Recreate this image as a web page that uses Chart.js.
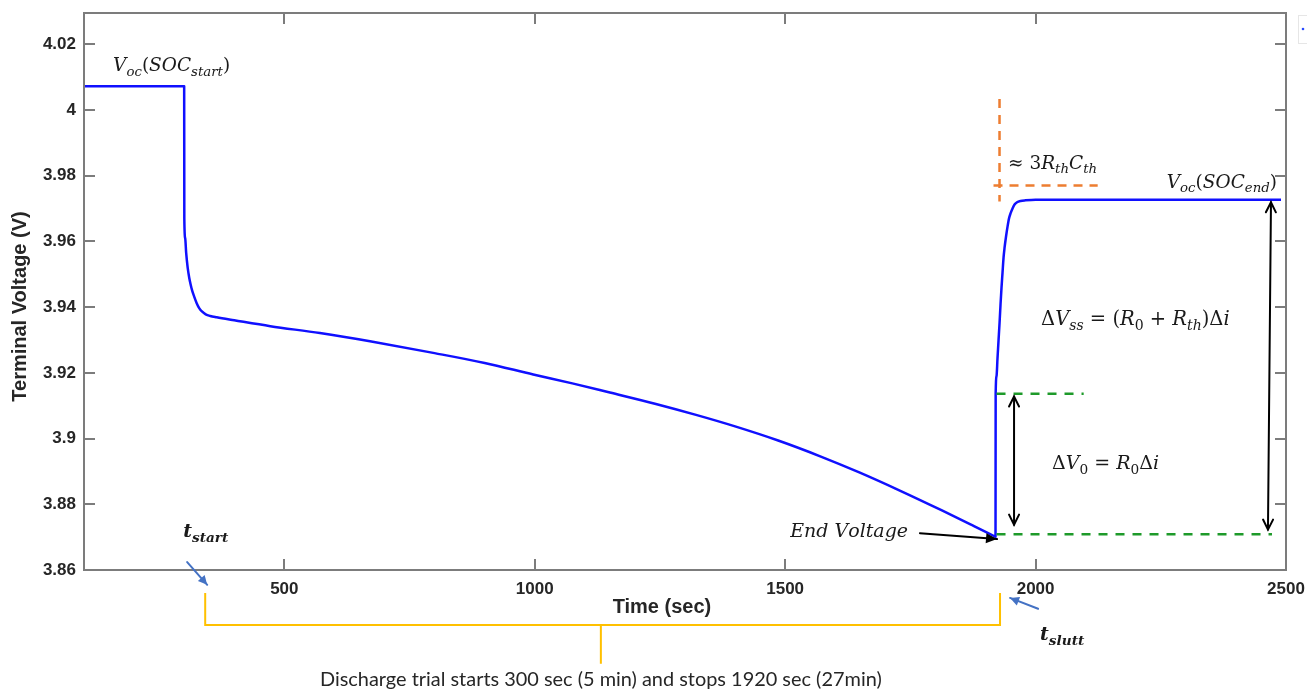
<!DOCTYPE html>
<html>
<head>
<meta charset="utf-8">
<script src="https://cdn.jsdelivr.net/npm/chart.js@4.4.1/dist/chart.umd.min.js"></script>
<style>
  html, body { margin: 0; padding: 0; background: #ffffff; }
  #wrap { width: 1307px; height: 695px; position: relative; }
</style>
</head>
<body>
<div id="wrap"><canvas id="c"></canvas></div>
<script>
// Terminal voltage during a constant-current discharge and the rest that follows
const timeSec = [100, 300, 300.3, 302, 304, 307, 310, 313, 316, 320, 325, 330, 336, 343, 352, 365, 400, 472, 571, 671, 800, 900, 997,
                 1075, 1150, 1240, 1322, 1400, 1486, 1570, 1648, 1730, 1812, 1870, 1915, 1920,
                 1920.3, 1922, 1924, 1926, 1928, 1930, 1932, 1934, 1936, 1938, 1941, 1944, 1947, 1950, 1954, 1958, 1963, 1970, 1980, 2000, 2490];
const voltage = [4.0072, 4.0072, 3.9670, 3.9610, 3.9565, 3.9520, 3.9490, 3.9468, 3.9450, 3.9432, 3.9412, 3.9397, 3.9386, 3.9378, 3.9373, 3.9369, 3.9360, 3.9342, 3.9321, 3.9296, 3.9260, 3.9230, 3.9195,
                 3.9168, 3.9140, 3.9106, 3.9072, 3.9037, 3.8994, 3.8946, 3.8897, 3.8841, 3.8782, 3.8739, 3.8705, 3.8701,
                 3.9136, 3.9190, 3.9245, 3.9298, 3.9350, 3.9408, 3.9460, 3.9505, 3.9550, 3.9580, 3.9615, 3.9645, 3.9670, 3.9685, 3.9700, 3.9712, 3.9719, 3.9723, 3.9725, 3.9727, 3.9727];

// Axis ticks
const xTicks = [500, 1000, 1500, 2000, 2500];
const yTicks = [3.86, 3.88, 3.9, 3.92, 3.94, 3.96, 3.98, 4, 4.02];
const yTickLabels = ['3.86', '3.88', '3.9', '3.92', '3.94', '3.96', '3.98', '4', '4.02'];
const xRange = [100, 2500];
const yRange = [3.86, 4.0295];

// Guide lines (time s, voltage V)
const tauVertT = [1928, 1928];   const tauVertV = [4.0033, 3.9721];
const tauHorzT = [1916, 2124];   const tauHorzV = [3.977, 3.977];
const r0LineT = [1922, 2096];    const r0LineV = [3.9136, 3.9136];
const endLineT = [1922, 2472];   const endLineV = [3.8709, 3.8709];

// Arrows
const dv0ArrowT = [1957, 1957];  const dv0ArrowV = [3.9128, 3.8738];
const dvssArrowT = [2470, 2464]; const dvssArrowV = [3.9719, 3.8723];
const endArrowT = [1769, 1923];  const endArrowV = [3.8712, 3.8694];
const tStartArrowT = [306, 346]; const tStartArrowV = [3.8624, 3.8555];
const tStopArrowT = [2005, 1949]; const tStopArrowV = [3.8482, 3.8515];

// Bracket for the discharge interval
const bracketT = [342, 1132, 1929];
const bracketV = [3.8530, 3.8433, 3.8315];

// Text labels
const mathLabels = [
  { text: 'V_{oc}(SOC_{start})', t: 158, v: 4.0118, size: 18.5, align: 'left' },
  { text: '≈ 3R_{th}C_{th}', t: 1945, v: 3.9821, size: 18.5, align: 'left' },
  { text: 'V_{oc}(SOC_{end})', t: 2482, v: 3.9763, size: 18.5, align: 'right' },
  { text: 'ΔV_{ss} = (R_{0} + R_{th})Δi', t: 2011, v: 3.9345, size: 19.5, align: 'left' },
  { text: 'ΔV_{0} = R_{0}Δi', t: 2033, v: 3.8906, size: 19, align: 'left' },
  { text: 'End Voltage', t: 1510, v: 3.8699, size: 19, align: 'left' },
  { text: 't_{start}', t: 298, v: 3.8699, size: 19, align: 'left', bold: true },
  { text: 't_{slutt}', t: 2009, v: 3.8386, size: 19, align: 'left', bold: true }
];
const caption = 'Discharge trial starts 300 sec (5 min) and stops 1920 sec (27min)';
const captionPos = { t: 1132, v: 3.8246 };
const xTitle = 'Time (sec)';
const xTitlePos = { t: 1254 };
const yTitle = 'Terminal Voltage (V)';

const AXIS_COLOR = '#7c7c7c';
const TEXT_COLOR = '#262626';

function mathRuns(str) {
  const runs = [];
  let i = 0;
  while (i < str.length) {
    if (str[i] === '_' && str[i + 1] === '{') {
      const j = str.indexOf('}', i);
      runs.push({ s: str.slice(i + 2, j), sub: true });
      i = j + 1;
    } else {
      let j = i;
      while (j < str.length && !(str[j] === '_' && str[j + 1] === '{')) j++;
      runs.push({ s: str.slice(i, j), sub: false });
      i = j;
    }
  }
  return runs;
}

function glyphFont(ch, size, bold) {
  const it = /[A-Za-z]/.test(ch);
  return (it ? 'italic ' : '') + (bold ? 'bold ' : '') + size + 'px "DejaVu Serif", serif';
}

function drawMath(ctx, str, x, y, size, align, bold) {
  const items = [];
  let w = 0;
  for (const r of mathRuns(str)) {
    for (const ch of r.s) {
      const fs = r.sub ? size * 0.72 : size;
      ctx.font = glyphFont(ch, fs, bold);
      const cw = ctx.measureText(ch).width;
      items.push({ ch, fs, dy: r.sub ? size * 0.24 : 0, x: w });
      w += cw;
    }
  }
  const x0 = align === 'right' ? x - w : align === 'center' ? x - w / 2 : x;
  ctx.fillStyle = '#1a1a1a';
  ctx.textBaseline = 'alphabetic';
  ctx.textAlign = 'left';
  for (const it of items) {
    ctx.font = glyphFont(it.ch, it.fs, bold);
    ctx.fillText(it.ch, x0 + it.x, y + it.dy);
  }
}

function dashed(ctx, xs, ys, color, dash) {
  ctx.save();
  ctx.strokeStyle = color;
  ctx.lineWidth = 2.5;
  ctx.setLineDash(dash);
  ctx.beginPath();
  ctx.moveTo(xs[0], ys[0]);
  ctx.lineTo(xs[1], ys[1]);
  ctx.stroke();
  ctx.restore();
}

function head(ctx, x1, y1, x2, y2, len, half, filled) {
  const a = Math.atan2(y2 - y1, x2 - x1);
  const bx = x2 - len * Math.cos(a), by = y2 - len * Math.sin(a);
  const px = -Math.sin(a) * half, py = Math.cos(a) * half;
  ctx.beginPath();
  ctx.moveTo(bx + px, by + py);
  ctx.lineTo(x2, y2);
  ctx.lineTo(bx - px, by - py);
  if (filled) { ctx.closePath(); ctx.fill(); } else { ctx.stroke(); }
}

function arrow(ctx, xs, ys, color, width, both, len, half, filled) {
  ctx.save();
  ctx.strokeStyle = color;
  ctx.fillStyle = color;
  ctx.lineWidth = width;
  ctx.lineCap = 'round';
  ctx.lineJoin = 'miter';
  ctx.beginPath();
  ctx.moveTo(xs[0], ys[0]);
  ctx.lineTo(xs[1], ys[1]);
  ctx.stroke();
  head(ctx, xs[0], ys[0], xs[1], ys[1], len, half, filled);
  if (both) head(ctx, xs[1], ys[1], xs[0], ys[0], len, half, filled);
  ctx.restore();
}

const framePlugin = {
  id: 'frame',
  afterDatasetsDraw(chart) {
    const { ctx, chartArea: a, scales: { x, y } } = chart;
    ctx.save();
    ctx.strokeStyle = AXIS_COLOR;
    ctx.lineWidth = 2;
    ctx.strokeRect(a.left, a.top, a.right - a.left, a.bottom - a.top);
    const tl = 11;
    ctx.beginPath();
    for (const t of xTicks) {
      const px = Math.round(x.getPixelForValue(t));
      ctx.moveTo(px, a.bottom); ctx.lineTo(px, a.bottom - tl);
      ctx.moveTo(px, a.top); ctx.lineTo(px, a.top + tl);
    }
    for (const v of yTicks) {
      const py = Math.round(y.getPixelForValue(v));
      ctx.moveTo(a.left, py); ctx.lineTo(a.left + tl, py);
      ctx.moveTo(a.right, py); ctx.lineTo(a.right - tl, py);
    }
    ctx.stroke();
    ctx.restore();
  }
};

const notesPlugin = {
  id: 'notes',
  afterDraw(chart) {
    const { ctx, chartArea: a, scales: { x, y } } = chart;
    const X = arr => arr.map(t => x.getPixelForValue(t));
    const Y = arr => arr.map(v => y.getPixelForValue(v));

    // time-constant marker and voltage levels
    dashed(ctx, X(tauVertT), Y(tauVertV), '#ED7D31', [9, 7]);
    dashed(ctx, X(tauHorzT), Y(tauHorzV), '#ED7D31', [9, 7]);
    dashed(ctx, X(r0LineT), Y(r0LineV), '#1E9A2A', [9, 8]);
    dashed(ctx, X(endLineT), Y(endLineV), '#1E9A2A', [9, 8]);

    // arrows
    arrow(ctx, X(dv0ArrowT), Y(dv0ArrowV), '#000000', 2, true, 10, 5, false);
    arrow(ctx, X(dvssArrowT), Y(dvssArrowV), '#000000', 2, true, 10, 5, false);
    arrow(ctx, X(endArrowT), Y(endArrowV), '#000000', 2, false, 11, 5, true);
    arrow(ctx, X(tStartArrowT), Y(tStartArrowV), '#4472C4', 2, false, 9, 4.5, true);
    arrow(ctx, X(tStopArrowT), Y(tStopArrowV), '#4472C4', 2, false, 9, 4.5, true);

    // bracket under the time axis
    const bx = X(bracketT), by = Y(bracketV);
    ctx.save();
    ctx.strokeStyle = '#FFC000';
    ctx.lineWidth = 2;
    ctx.beginPath();
    ctx.moveTo(bx[0], by[0]); ctx.lineTo(bx[0], by[1]); ctx.lineTo(bx[2], by[1]); ctx.lineTo(bx[2], by[0]);
    ctx.moveTo(bx[1], by[1]); ctx.lineTo(bx[1], by[2]);
    ctx.stroke();
    ctx.restore();

    // math labels
    for (const l of mathLabels) {
      drawMath(ctx, l.text, x.getPixelForValue(l.t), y.getPixelForValue(l.v), l.size, l.align, l.bold);
    }

    // caption
    ctx.save();
    ctx.fillStyle = TEXT_COLOR;
    ctx.textAlign = 'center';
    ctx.textBaseline = 'alphabetic';
    ctx.font = '16px Lato, "Open Sans", sans-serif';
    const w = ctx.measureText(caption).width;
    const fs = 16 * 562 / w;
    ctx.font = fs.toFixed(2) + 'px Lato, "Open Sans", sans-serif';
    ctx.fillText(caption, x.getPixelForValue(captionPos.t), y.getPixelForValue(captionPos.v));

    // axis titles
    ctx.fillStyle = TEXT_COLOR;
    ctx.font = 'bold 20px "Liberation Sans", Arial, sans-serif';
    ctx.textAlign = 'center';
    ctx.fillText(xTitle, x.getPixelForValue(xTitlePos.t), a.bottom + 43);
    ctx.translate(26, (a.top + a.bottom) / 2 + 15);
    ctx.rotate(-Math.PI / 2);
    ctx.fillText(yTitle, 0, 0);
    ctx.restore();

    // small empty legend box at the top-right corner
    ctx.save();
    ctx.strokeStyle = '#e6e6e6';
    ctx.lineWidth = 1;
    ctx.strokeRect(1298.5, 15.5, 12, 28);
    ctx.fillStyle = '#2a4bff';
    ctx.beginPath();
    ctx.arc(1303, 29, 1.3, 0, Math.PI * 2);
    ctx.fill();
    ctx.restore();
  }
};

const tickFont = { family: '"Liberation Sans", Arial, sans-serif', size: 17, weight: 'bold' };

new Chart(document.getElementById('c'), {
  type: 'line',
  data: {
    datasets: [{
      data: timeSec.map((t, i) => ({ x: t, y: voltage[i] })),
      borderColor: '#1010FF',
      borderWidth: 2.5,
      borderJoinStyle: 'round',
      pointRadius: 0,
      cubicInterpolationMode: 'monotone',
      fill: false
    }]
  },
  options: {
    responsive: true,
    maintainAspectRatio: false,
    animation: false,
    layout: { padding: { left: 0, right: 21, top: 13, bottom: 0 } },
    plugins: { legend: { display: false }, tooltip: { enabled: false } },
    scales: {
      x: {
        type: 'linear',
        min: xRange[0],
        max: xRange[1],
        afterBuildTicks: s => { s.ticks = xTicks.map(v => ({ value: v })); },
        afterFit: s => { s.height = 125; s.paddingLeft = 0; s.paddingRight = 0; },
        grid: { display: false, drawTicks: false },
        border: { display: false },
        ticks: { font: tickFont, color: TEXT_COLOR, padding: 9, maxRotation: 0, autoSkip: false, callback: v => String(v) }
      },
      y: {
        type: 'linear',
        min: yRange[0],
        max: yRange[1],
        afterBuildTicks: s => { s.ticks = yTicks.map(v => ({ value: v })); },
        afterFit: s => { s.width = 84; s.paddingTop = 0; s.paddingBottom = 0; },
        grid: { display: false, drawTicks: false },
        border: { display: false },
        ticks: {
          font: tickFont, color: TEXT_COLOR, padding: 8, autoSkip: false,
          callback: (v, i) => yTickLabels[i]
        }
      }
    }
  },
  plugins: [framePlugin, notesPlugin]
});
</script>
</body>
</html>
